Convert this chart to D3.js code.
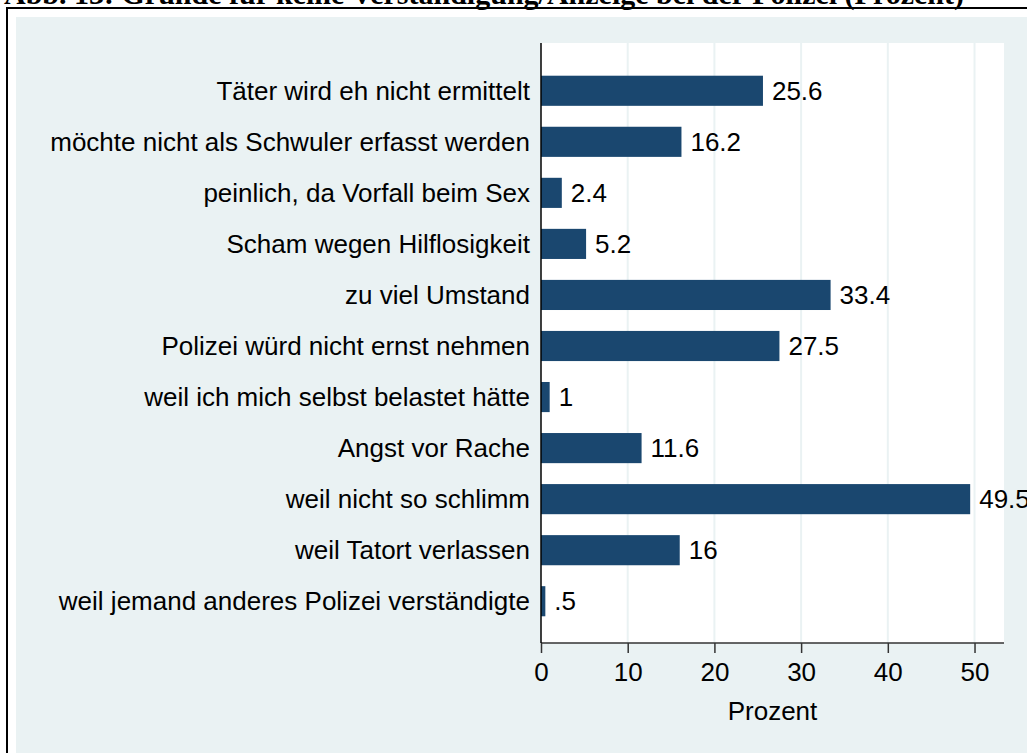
<!DOCTYPE html>
<html>
  <head>
    <meta charset="utf-8">
    <title></title>
    <script src="https://cdn.jsdelivr.net/npm/d3@7"></script>
    <style>
      body { margin: 0; background: #fff; }
      text { font-family: "Liberation Sans", Arial, sans-serif; }
    </style>
  </head>
  <body>
    <script type="text/javascript">

    var width = 1027,
        height = 753;

    var title = "Abb. 13: Gründe für keine Verständigung/Anzeige bei der Polizei (Prozent)";

    var categories = [
      "Täter wird eh nicht ermittelt",
      "möchte nicht als Schwuler erfasst werden",
      "peinlich, da Vorfall beim Sex",
      "Scham wegen Hilflosigkeit",
      "zu viel Umstand",
      "Polizei würd nicht ernst nehmen",
      "weil ich mich selbst belastet hätte",
      "Angst vor Rache",
      "weil nicht so schlimm",
      "weil Tatort verlassen",
      "weil jemand anderes Polizei verständigte"
    ];

    var values = [25.6, 16.2, 2.4, 5.2, 33.4, 27.5, 1, 11.6, 49.5, 16, 0.5];
    var valueLabels = ["25.6", "16.2", "2.4", "5.2", "33.4", "27.5", "1", "11.6", "49.5", "16", ".5"];

    var xTicks = [0, 10, 20, 30, 40, 50];
    var xTitle = "Prozent";

    var bg = "#eaf2f3",
        barColor = "#1a476f",
        fontSize = 26;

    var plot = {left: 541, right: 1004, top: 43, bottom: 643};

    var svg = d3.select("body").append("svg")
        .attr("width", width)
        .attr("height", height);

    // outer frame of the figure
    svg.append("rect")
        .attr("x", 7).attr("y", 8)
        .attr("width", width + 20).attr("height", height + 20)
        .attr("fill", "#fff")
        .attr("stroke", "#000")
        .attr("stroke-width", 2);

    svg.append("rect")
        .attr("x", 16).attr("y", 17)
        .attr("width", width).attr("height", height)
        .attr("fill", bg);

    // title sits mostly above the picture edge
    svg.append("text")
        .attr("x", 4).attr("y", 4)
        .style("font-family", "'Liberation Serif', 'Times New Roman', serif")
        .attr("font-weight", "bold")
        .attr("font-size", 30)
        .text(title);

    var x = d3.scaleLinear()
        .domain([0, 53.4])
        .range([plot.left, plot.right]);

    var y = d3.scaleBand()
        .domain(categories)
        .range([65.5, 626.5])
        .paddingInner(0.41)
        .paddingOuter(0.2);

    svg.append("rect")
        .attr("x", plot.left).attr("y", plot.top)
        .attr("width", plot.right - plot.left)
        .attr("height", plot.bottom - plot.top)
        .attr("fill", "#fff");

    // gridlines
    svg.append("g").selectAll("line")
        .data(xTicks.slice(1))
        .enter().append("line")
        .attr("x1", function(d) { return x(d); })
        .attr("x2", function(d) { return x(d); })
        .attr("y1", plot.top).attr("y2", plot.bottom)
        .attr("stroke", bg)
        .attr("stroke-width", 2);

    // bars
    svg.append("g").selectAll("rect")
        .data(values)
        .enter().append("rect")
        .attr("x", x(0))
        .attr("y", function(d, i) { return y(categories[i]); })
        .attr("width", function(d) { return x(d) - x(0); })
        .attr("height", y.bandwidth())
        .attr("fill", barColor);

    // value labels
    svg.append("g").selectAll("text")
        .data(values)
        .enter().append("text")
        .attr("x", function(d) { return x(d) + 9; })
        .attr("y", function(d, i) { return y(categories[i]) + y.bandwidth() / 2; })
        .attr("dy", "0.35em")
        .attr("font-size", fontSize)
        .attr("fill", "#000")
        .text(function(d, i) { return valueLabels[i]; });

    // category labels
    svg.append("g").selectAll("text")
        .data(categories)
        .enter().append("text")
        .attr("x", 530)
        .attr("y", function(d) { return y(d) + y.bandwidth() / 2; })
        .attr("dy", "0.35em")
        .attr("text-anchor", "end")
        .attr("font-size", fontSize)
        .attr("fill", "#000")
        .text(function(d) { return d; });

    // axes
    var xAxis = svg.append("g")
        .attr("transform", "translate(0," + plot.bottom + ")")
        .call(d3.axisBottom(x).tickValues(xTicks).tickSize(10).tickPadding(10).tickFormat(d3.format("d")));

    xAxis.select(".domain")
        .attr("d", "M" + plot.left + ",0H" + plot.right)
        .attr("stroke", "#333")
        .attr("stroke-width", 1.5);
    xAxis.selectAll(".tick line").attr("stroke", "#333").attr("stroke-width", 1.5);
    xAxis.selectAll(".tick text")
        .attr("font-size", fontSize)
        .attr("fill", "#000")
        .style("font-family", "'Liberation Sans', Arial, sans-serif");

    svg.append("line")
        .attr("x1", plot.left).attr("x2", plot.left)
        .attr("y1", plot.top).attr("y2", plot.bottom)
        .attr("stroke", "#000")
        .attr("stroke-width", 1.5);

    svg.append("text")
        .attr("x", (plot.left + plot.right) / 2)
        .attr("y", 711)
        .attr("dy", "0.35em")
        .attr("text-anchor", "middle")
        .attr("font-size", fontSize)
        .attr("fill", "#000")
        .text(xTitle);

    </script>
  </body>
</html>
